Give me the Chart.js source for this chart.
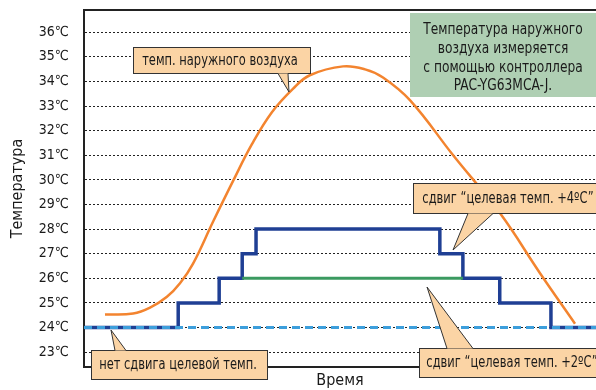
<!DOCTYPE html>
<html lang="ru">
<head>
<meta charset="utf-8">
<title>Температура</title>
<style>
body { margin: 0; background: #fff; }
#wrap { width: 596px; height: 390px; }
</style>
</head>
<body>
<div id="wrap"><canvas id="canvas" width="596" height="390"></canvas></div>
<script src="https://cdn.jsdelivr.net/npm/chart.js"></script>
<script>
// time goes 0..100 across the plot
const outdoorTime = [4.1, 9.6, 12.9, 16.2, 18.75, 21.3, 25.2, 29.1, 32.8, 36.7, 40.8, 44.1, 50.6, 54.9, 58.4, 63.7, 72.1, 81.3, 89.1, 95.9];
const outdoorTemp = [24.53, 24.57, 24.81, 25.25, 25.8, 26.6, 28.3, 29.95, 31.45, 32.75, 33.7, 34.25, 34.61, 34.49, 34.16, 33.23, 31.0, 28.63, 26.2, 24.16];

const shift4Time = [0, 18.4, 26.4, 30.9, 33.6, 69.5, 74.0, 81.2, 91.2, 100];
const shift4Temp = [24, 25, 26, 27, 28, 27, 26, 25, 24, 24];

const shift2Time = [30.9, 74.0];
const shift2Temp = [26, 26];

const noShiftTime = [0, 100];
const noShiftTemp = [24, 24];

const yTicks = [23, 24, 25, 26, 27, 28, 29, 30, 31, 32, 33, 34, 35, 36];

const FONT = "'DejaVu Sans Condensed', 'DejaVu Sans', sans-serif";
const SQUEEZE = 0.85;

function pts(xs, ys) { return xs.map((x, i) => ({x: x, y: ys[i]})); }

// callouts, in canvas pixels
const callouts = [
  {box: [133, 47, 310, 73], base: [278, 288, 'bottom'], tip: [289, 92], text: 'темп. наружного воздуха', cx: 220},
  {box: [413, 183, 600, 213], base: [468, 493, 'bottom'], tip: [453, 250], text: 'сдвиг “целевая темп. +4ºC”', cx: 508},
  {box: [91, 350, 267, 379], base: [115, 126, 'top'], tip: [111, 330], text: 'нет сдвига целевой темп.', cx: 178},
  {box: [419, 348, 600, 377], base: [447, 473, 'top'], tip: [427, 287], text: 'сдвиг “целевая темп. +2ºC”', cx: 512}
];

function squeezedText(c, t, x, y) {
  c.save();
  c.translate(x, y);
  c.scale(SQUEEZE, 1);
  c.fillText(t, 0, 0);
  c.restore();
}

const notePlugin = {
  id: 'notes',
  afterDraw(chart) {
    const c = chart.ctx;
    const a = chart.chartArea;
    c.save();
    // top frame line
    c.strokeStyle = '#222';
    c.lineWidth = 2;
    c.beginPath(); c.moveTo(a.left - 1, a.top); c.lineTo(a.right, a.top); c.stroke();

    // green note
    c.fillStyle = '#afcfb3';
    c.fillRect(410, 13, 186, 84);
    c.fillStyle = '#1a1a1a';
    c.font = '16px ' + FONT;
    c.textAlign = 'center';
    c.textBaseline = 'middle';
    ['Температура наружного', 'воздуха измеряется', 'с помощью контроллера', 'PAC-YG63MCA-J.'].forEach((t, i) => {
      squeezedText(c, t, 503, 30 + i * 18.7);
    });

    c.font = '15px ' + FONT;
    callouts.forEach(co => {
      const [x1, y1, x2, y2] = co.box;
      c.fillStyle = '#fbd4a5';
      c.strokeStyle = '#333';
      c.lineWidth = 1;
      c.fillRect(x1, y1, x2 - x1, y2 - y1);
      c.strokeRect(x1 + 0.5, y1 + 0.5, x2 - x1, y2 - y1);
      const by = co.base[2] === 'bottom' ? y2 + 0.5 : y1 + 0.5;
      c.beginPath();
      c.moveTo(co.base[0], by);
      c.lineTo(co.tip[0], co.tip[1]);
      c.lineTo(co.base[1], by);
      c.closePath();
      c.fill();
      c.beginPath();
      c.moveTo(co.base[0], by);
      c.lineTo(co.tip[0], co.tip[1]);
      c.lineTo(co.base[1], by);
      c.stroke();
      c.fillStyle = '#1a1a1a';
      squeezedText(c, co.text, co.cx, (y1 + y2) / 2 + 1);
    });
    c.restore();
  }
};

const ctx = document.getElementById('canvas').getContext('2d');
const mychart = new Chart(ctx, {
  type: 'line',
  data: {
    datasets: [
      {label: 'без сдвига', data: pts(noShiftTime, noShiftTemp), borderColor: '#3d9fdc', borderWidth: 3, borderDash: [8, 5], pointRadius: 0},
      {label: '+2', data: pts(shift2Time, shift2Temp), borderColor: '#3b9a60', borderWidth: 3, pointRadius: 0},
      {label: '+4', data: pts(shift4Time, shift4Temp), borderColor: '#1f3f94', borderWidth: 3.5, stepped: 'before', pointRadius: 0},
      {label: 'наружн.', data: pts(outdoorTime, outdoorTemp), borderColor: '#f3842f', borderWidth: 2.5, tension: 0.4, pointRadius: 0}
    ]
  },
  options: {
    responsive: false,
    animation: false,
    layout: {padding: {top: 10, left: 0, right: 0, bottom: 0}},
    plugins: {legend: {display: false}, tooltip: {enabled: false}},
    scales: {
      x: {
        type: 'linear', min: 0, max: 100,
        grid: {display: false},
        ticks: {display: false},
        border: {display: true, color: '#222', width: 2},
        title: {display: true, text: 'Время', color: '#1a1a1a', font: {family: FONT, size: 16}, padding: {top: 0, bottom: 0}},
        afterFit(s) { s.height = 23; s.paddingLeft = 0; s.paddingRight = 0; }
      },
      y: {
        min: 22.4, max: 36.9,
        afterBuildTicks(s) { s.ticks = yTicks.map(v => ({value: v})); },
        ticks: {
          color: '#1a1a1a', padding: 15,
          font: {family: FONT, size: 14},
          callback: v => v + '℃'
        },
        grid: {color: '#222', lineWidth: 1, drawTicks: false},
        border: {display: true, color: '#222', width: 2, dash: [2, 2]},
        title: {display: true, text: 'Температура', color: '#1a1a1a', font: {family: FONT, size: 16}, padding: {top: 8, bottom: 0}},
        afterFit(s) { s.width = 84; s.paddingTop = 0; s.paddingBottom = 0; }
      }
    }
  },
  plugins: [notePlugin]
});
</script>
</body>
</html>
